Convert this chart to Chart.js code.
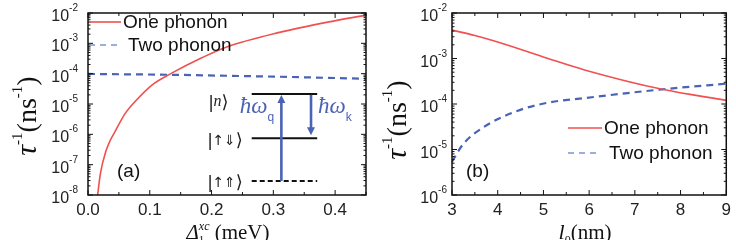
<!DOCTYPE html>
<html>
<head>
<meta charset="utf-8">
<script src="https://cdn.jsdelivr.net/npm/chart.js@4.4.0/dist/chart.umd.min.js"></script>
<style>
html, body { margin: 0; padding: 0; background: #fff; }
#wrap { position: relative; width: 736px; height: 240px; overflow: hidden; }
.pane { position: absolute; top: 0; width: 368px; height: 240px; }
</style>
</head>
<body>
<div id="wrap">
    <div class="pane" style="left:0"><canvas id="chartA" width="368" height="240"></canvas></div>
    <div class="pane" style="left:368px"><canvas id="chartB" width="368" height="240"></canvas></div>
</div>
<script>
// Panel (a): rate vs exchange splitting (meV)
const aOneX = [0.0156, 0.02, 0.029, 0.036, 0.044, 0.06, 0.077, 0.104, 0.134, 0.185, 0.2245, 0.31, 0.39, 0.45];
const aOneY = [1e-8, 5e-8, 2.8e-7, 6.3e-7, 1.26e-6, 4.8e-6, 1.26e-5, 4.3e-5, 1.0e-4, 3.4e-4, 7.6e-4, 2.3e-3, 5.1e-3, 8.5e-3];
const aTwoX = [0, 0.15, 0.229, 0.3, 0.45];
const aTwoY = [9.8e-5, 9.1e-5, 8.5e-5, 8.0e-5, 6.8e-5];
const aXTicks = [0, 0.1, 0.2, 0.3, 0.4];

// Panel (b): rate vs confinement length (nm)
const bOneX = [3, 3.5, 4, 5.1, 5.9, 7.6, 9];
const bOneY = [4.2e-3, 3.2e-3, 2.3e-3, 1.0e-3, 5.6e-4, 2.1e-4, 1.2e-4];
const bTwoX = [3, 3.24, 3.67, 4.4, 5.1, 5.9, 7.6, 9];
const bTwoY = [5.4e-6, 1.3e-5, 3.0e-5, 6.9e-5, 1.07e-4, 1.35e-4, 2.1e-4, 2.8e-4];
const bXTicks = [3, 4, 5, 6, 7, 8, 9];

const seriesNames = ['One phonon', 'Two phonon'];
const RED = '#f0504f';
const BLUE = '#4a63b5';
const SANS = '"Liberation Sans", Arial, sans-serif';
const SERIF = '"Liberation Serif", "Times New Roman", serif';

function pts(xs, ys) {
    return xs.map((x, i) => ({ x: x, y: ys[i] }));
}

// draw a run of text pieces: [text, font, dy, noAdvance]
function rich(ctx, parts, x, y, align) {
    let total = 0;
    parts.forEach(p => {
        ctx.font = p[1];
        if (!p[3]) total += ctx.measureText(p[0]).width;
    });
    let cx = align === 'center' ? x - total / 2 : (align === 'right' ? x - total : x);
    ctx.textAlign = 'left';
    ctx.textBaseline = 'alphabetic';
    parts.forEach(p => {
        ctx.font = p[1];
        ctx.fillText(p[0], cx, y + (p[2] || 0));
        if (!p[3]) cx += ctx.measureText(p[0]).width;
    });
}

function drawPow(ctx, x, y, exp) {
    ctx.font = '16px ' + SANS;
    const w = ctx.measureText('10').width;
    ctx.font = '10px ' + SANS;
    const ws = ctx.measureText(exp).width;
    ctx.textAlign = 'left';
    ctx.textBaseline = 'alphabetic';
    ctx.fillStyle = '#222';
    ctx.font = '16px ' + SANS;
    ctx.fillText('10', x - ws - w, y + 8);
    ctx.font = '10px ' + SANS;
    ctx.fillText(exp, x - ws, y - 2);
}

// frame, inward ticks on all four sides, y labels as powers of ten
const framePlugin = {
    id: 'frame',
    afterDraw(chart, args, opts) {
        const ctx = chart.ctx;
        const a = chart.chartArea;
        const xs = chart.scales.x;
        const ys = chart.scales.y;
        ctx.save();
        ctx.strokeStyle = '#111';
        ctx.lineWidth = 1.5;
        ctx.strokeRect(a.left, a.top, a.right - a.left, a.bottom - a.top);

        ctx.lineWidth = 1;
        const tick = (x1, y1, x2, y2) => {
            ctx.beginPath();
            ctx.moveTo(x1, y1);
            ctx.lineTo(x2, y2);
            ctx.stroke();
        };
        const step = opts.xStep;
        for (let v = xs.min; v <= xs.max + 1e-9; v += step / 2) {
            const px = xs.getPixelForValue(v);
            const major = Math.abs(v / step - Math.round(v / step)) < 1e-6;
            const len = major ? 5 : 3;
            tick(px, a.bottom, px, a.bottom - len);
            tick(px, a.top, px, a.top + len);
        }
        const lo = Math.round(Math.log10(ys.min));
        const hi = Math.round(Math.log10(ys.max));
        for (let n = lo; n <= hi; n++) {
            for (let k = 1; k <= 9; k++) {
                const v = k * Math.pow(10, n);
                if (v > ys.max * 1.0001) break;
                const py = ys.getPixelForValue(v);
                const len = k === 1 ? 5 : 2.5;
                tick(a.left, py, a.left + len, py);
                tick(a.right, py, a.right - len, py);
            }
            drawPow(ctx, a.left - opts.labelGap, ys.getPixelForValue(Math.pow(10, n)), '-' + (-n));
        }
        ctx.restore();
    }
};

// titles, legend, panel label
const textPlugin = {
    id: 'texts',
    afterDraw(chart, args, opts) {
        const ctx = chart.ctx;
        ctx.save();
        ctx.fillStyle = '#111';

        // y title, rotated
        ctx.save();
        ctx.translate(opts.yTitleX, opts.yTitleY);
        ctx.rotate(-Math.PI / 2);
        rich(ctx, [
            ['\u03c4', 'italic 30px ' + SERIF, 0],
            ['-1', '15px ' + SERIF, -14],
            ['(ns', '28px ' + SERIF, 0],
            ['-1', '15px ' + SERIF, -14],
            [')', '28px ' + SERIF, 0]
        ], 0, 0, 'center');
        ctx.restore();

        // x title
        rich(ctx, opts.xTitle, opts.xTitleX, 239, 'center');

        // panel label
        ctx.font = '19px ' + SANS;
        ctx.textAlign = 'left';
        ctx.textBaseline = 'middle';
        ctx.fillText(opts.panel, opts.panelX, 172);

        // legend
        const lg = opts.legend;
        ctx.lineWidth = 1.6;
        ctx.strokeStyle = RED;
        ctx.beginPath();
        ctx.moveTo(lg.x0, lg.y0);
        ctx.lineTo(lg.x1, lg.y0);
        ctx.stroke();
        ctx.strokeStyle = '#7f92d2';
        ctx.setLineDash([6, 5]);
        ctx.beginPath();
        ctx.moveTo(lg.x0, lg.y0 + lg.gap);
        ctx.lineTo(lg.x1 - 4, lg.y0 + lg.gap);
        ctx.stroke();
        ctx.setLineDash([]);
        ctx.font = '19px ' + SANS;
        ctx.fillStyle = '#111';
        ctx.textBaseline = 'middle';
        ctx.fillText(seriesNames[0], lg.x1 + 2, lg.y0 + 1);
        ctx.fillText(seriesNames[1], lg.x1 + 7, lg.y0 + lg.gap + 1);
        ctx.restore();
    }
};

// level scheme drawn inside panel (a), placed through the data scales
const inset = { levels: [2.15e-5, 7.4e-7, 2.9e-8], x0: 0.265, x1: 0.371, up: 0.313, down: 0.361 };
const insetPlugin = {
    id: 'inset',
    afterDatasetsDraw(chart) {
        const ctx = chart.ctx;
        const xs = chart.scales.x;
        const ys = chart.scales.y;
        const L = xs.getPixelForValue(inset.x0);
        const R = xs.getPixelForValue(inset.x1);
        const yN = ys.getPixelForValue(inset.levels[0]);
        const yM = ys.getPixelForValue(inset.levels[1]);
        const yG = ys.getPixelForValue(inset.levels[2]);
        ctx.save();
        ctx.strokeStyle = '#111';
        ctx.lineWidth = 2;
        [yN, yM].forEach(y => {
            ctx.beginPath();
            ctx.moveTo(L, y);
            ctx.lineTo(R, y);
            ctx.stroke();
        });
        ctx.setLineDash([5, 3]);
        ctx.beginPath();
        ctx.moveTo(L, yG);
        ctx.lineTo(R, yG);
        ctx.stroke();
        ctx.setLineDash([]);

        const arrow = (x, from, to) => {
            const dir = to < from ? -1 : 1;
            ctx.strokeStyle = BLUE;
            ctx.fillStyle = BLUE;
            ctx.lineWidth = 2.6;
            ctx.beginPath();
            ctx.moveTo(x, from);
            ctx.lineTo(x, to - dir * 7);
            ctx.stroke();
            ctx.beginPath();
            ctx.moveTo(x, to);
            ctx.lineTo(x - 4, to - dir * 8);
            ctx.lineTo(x + 4, to - dir * 8);
            ctx.closePath();
            ctx.fill();
        };
        arrow(xs.getPixelForValue(inset.up), yG, yN + 1);
        arrow(xs.getPixelForValue(inset.down), yN + 1, yM - 3);

        ctx.fillStyle = BLUE;
        rich(ctx, [
            ['\u0127\u03c9', 'italic 23px ' + SERIF, 0],
            ['q', '12px ' + SANS, 8]
        ], L - 12, yN + 19, 'left');
        rich(ctx, [
            ['\u0127\u03c9', 'italic 23px ' + SERIF, 0],
            ['k', '12px ' + SANS, 8]
        ], xs.getPixelForValue(inset.down) + 7, yN + 19, 'left');

        ctx.fillStyle = '#222';
        const kx = L - 44;
        rich(ctx, [['|', '18px ' + SANS, 0], ['n', 'italic 16px ' + SERIF, -2], ['\u27e9', '18px "DejaVu Sans"', 0]], kx + 1, yN + 14, 'left');
        rich(ctx, [['|', '18px ' + SANS, 0], ['\u2191\u21d3', '14px "DejaVu Sans"', -1], ['\u27e9', '18px "DejaVu Sans"', 0]], kx, yM + 8, 'left');
        rich(ctx, [['|', '18px ' + SANS, 0], ['\u2191\u21d1', '14px "DejaVu Sans"', -1], ['\u27e9', '18px "DejaVu Sans"', 0]], kx, yG + 7, 'left');
        ctx.restore();
    }
};

function makeChart(id, cfg) {
    return new Chart(document.getElementById(id), {
        type: 'line',
        data: {
            datasets: [
                {
                    label: seriesNames[0],
                    data: pts(cfg.oneX, cfg.oneY),
                    borderColor: RED,
                    borderWidth: 1.6,
                    pointRadius: 0,
                    cubicInterpolationMode: 'monotone',
                    fill: false
                },
                {
                    label: seriesNames[1],
                    data: pts(cfg.twoX, cfg.twoY),
                    borderColor: BLUE,
                    borderWidth: 2.2,
                    borderDash: [7, 5],
                    pointRadius: 0,
                    cubicInterpolationMode: 'monotone',
                    fill: false
                }
            ]
        },
        options: {
            responsive: false,
            animation: false,
            devicePixelRatio: 1,
            layout: { padding: { top: 13, right: cfg.padRight, left: 0, bottom: 0 } },
            plugins: {
                legend: { display: false },
                tooltip: { enabled: false },
                frame: { xStep: cfg.xStep, labelGap: cfg.labelGap },
                texts: cfg.texts
            },
            scales: {
                x: {
                    type: 'linear',
                    min: cfg.xMin,
                    max: cfg.xMax,
                    afterBuildTicks: s => { s.ticks = cfg.xTicks.map(v => ({ value: v })); },
                    ticks: {
                        callback: cfg.xFmt,
                        color: '#222',
                        font: { size: 17, family: SANS },
                        padding: 5,
                        maxRotation: 0,
                        autoSkip: false
                    },
                    grid: { display: false, drawTicks: false },
                    border: { display: false },
                    afterFit: s => { s.height = 45; }
                },
                y: {
                    type: 'logarithmic',
                    min: cfg.yMin,
                    max: 1e-2,
                    ticks: { callback: () => '' },
                    grid: { display: false, drawTicks: false },
                    border: { display: false },
                    afterFit: s => { s.width = cfg.yWidth; }
                }
            }
        },
        plugins: cfg.extra.concat([framePlugin, textPlugin])
    });
}

makeChart('chartA', {
    oneX: aOneX, oneY: aOneY, twoX: aTwoX, twoY: aTwoY,
    xMin: 0, xMax: 0.45, xStep: 0.1, xTicks: aXTicks,
    xFmt: v => v.toFixed(1),
    yMin: 1e-8, yWidth: 88, padRight: 2, labelGap: 10,
    extra: [insetPlugin],
    texts: {
        yTitleX: 36, yTitleY: 116,
        xTitleX: 228,
        xTitle: [
            ['\u0394', 'italic 21px ' + SERIF, 0],
            ['1', '11px ' + SERIF, 4, true],
            ['xc', 'italic 12px ' + SERIF, -9],
            [' (meV)', '21px ' + SERIF, 0]
        ],
        panel: '(a)', panelX: 117,
        legend: { x0: 89, x1: 121, y0: 22, gap: 23 }
    }
});

makeChart('chartB', {
    oneX: bOneX, oneY: bOneY, twoX: bTwoX, twoY: bTwoY,
    xMin: 3, xMax: 9, xStep: 1, xTicks: bXTicks,
    xFmt: v => String(v),
    yMin: 1e-6, yWidth: 84, padRight: 7, labelGap: 5,
    extra: [],
    texts: {
        yTitleX: 38, yTitleY: 120,
        xTitleX: 217,
        xTitle: [
            ['l', 'italic 22px ' + SERIF, 0],
            ['0', '12px ' + SERIF, 5],
            ['(nm)', '21px ' + SERIF, 0]
        ],
        panel: '(b)', panelX: 98,
        legend: { x0: 200, x1: 234, y0: 128, gap: 25 }
    }
});
</script>
</body>
</html>
